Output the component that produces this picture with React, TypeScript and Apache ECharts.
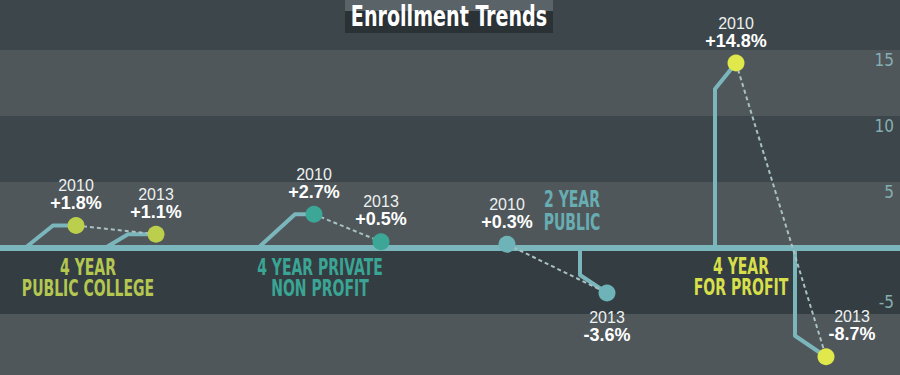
import React, { useEffect, useRef } from "react";
import * as echarts from "echarts";

// ---------- data ----------
const groups = ["4 YEAR\nPUBLIC COLLEGE", "4 YEAR PRIVATE\nNON PROFIT", "2 YEAR\nPUBLIC", "4 YEAR\nFOR PROFIT"];
const years = ["2010", "2013"];
const change2010 = [1.8, 2.7, 0.3, 14.8];
const change2013 = [1.1, 0.5, -3.6, -8.7];
const yTickLabels = [15, 10, 5, -5];
const chartTitle = "Enrollment Trends";

// ---------- layout / style ----------
const slotX = [
  [76, 156],
  [314, 381],
  [507, 607],
  [736, 826],
];
// connector shapes (pixel offsets from the point)
type Conn = { kind: "ramp" | "stem"; a: number; b: number } | null;
const connectors: Conn[] = [
  { kind: "ramp", a: 51, b: 23 },
  { kind: "ramp", a: 51, b: 28 },
  { kind: "ramp", a: 56, b: 19 },
  null,
  null,
  { kind: "stem", a: 27, b: 18 },
  { kind: "stem", a: 21, b: 26 },
  { kind: "stem", a: 31, b: 21 },
];
const labelLayout: any[][] = [
  [{ position: "top" }, { position: "top" }],
  [{ position: "top" }, { position: "top" }],
  [{ position: "top" }, { position: "bottom", distance: 7 }],
  [{ position: "top" }, { position: "top", offset: [26, 0] }],
];
const groupLabelLayout = [
  { x: 88, y: 278, lh: 21 },
  { x: 320, y: 278, lh: 21 },
  { x: 572, y: 211, lh: 23 },
  { x: 741, y: 277, lh: 21 },
];
const pointColors = ["#bccf4c", "#3ca697", "#6db3b7", "#e0e84b"];
const groupTextColors = ["#b3c751", "#3aa595", "#68adb2", "#d7df4a"];
const LINE_COLOR = "#7ab6bc";
const DASH_COLOR = "#a9c1c3";
const BAND_LIGHT = "#4f575b";
const BAND_DARK = "#3d474b";
const BAND_DARKEST = "#343d41";
const bandColor = (lo: number) => (lo === -5 ? BAND_DARKEST : (lo / 5) % 2 === 0 ? BAND_LIGHT : BAND_DARK);

const FONT_NARROW = "'Liberation Sans Narrow', 'DejaVu Sans Condensed', 'Roboto Condensed', 'Liberation Sans', sans-serif";
const FONT = "'Liberation Sans', Arial, sans-serif";

const fmt = (v: number) => (v > 0 ? `+${v.toFixed(1)}%` : `${v.toFixed(1)}%`);

function buildOption() {
  const bandStarts = [-10, -5, 0, 5, 10, 15];
  const pointData: number[][] = [];
  groups.forEach((_, g) => {
    pointData.push([slotX[g][0], change2010[g]]);
    pointData.push([slotX[g][1], change2013[g]]);
  });

  const groupSeries = groups.map((_, g) => {
    const vals = [change2010[g], change2013[g]];
    return {
      type: "line",
      xAxisIndex: 0,
      yAxisIndex: 0,
      z: 6,
      silent: true,
      symbol: "circle",
      symbolSize: 17,
      itemStyle: { color: pointColors[g] },
      lineStyle: { type: [4, 3], width: 2, color: DASH_COLOR },
      data: vals.map((v, i) => ({
        value: [slotX[g][i], v],
        label: {
          show: true,
          ...labelLayout[g][i],
          formatter: `{y|${years[i]}}\n{v|${fmt(v)}}`,
          rich: {
            y: { fontFamily: FONT, fontSize: 16, color: "#eef1f1", lineHeight: 17, align: "center" },
            v: { fontFamily: FONT, fontSize: 18, fontWeight: "bold", color: "#ffffff", lineHeight: 18, align: "center" },
          },
        },
      })),
    };
  });

  const graphics: any[] = [
    { type: "rect", shape: { x: 345, y: 0, width: 208, height: 11 }, style: { fill: "#5a6367" }, z: 10 },
    { type: "rect", shape: { x: 345, y: 11, width: 208, height: 22 }, style: { fill: "#2b3236" }, z: 10 },
    {
      type: "text",
      x: 449,
      y: 16,
      z: 11,
      scaleX: 0.85,
      scaleY: 1.1,
      style: {
        text: chartTitle,
        fill: "#ffffff",
        fontFamily: FONT_NARROW,
        fontWeight: "bold",
        fontSize: 25,
        align: "center",
        verticalAlign: "middle",
      },
    },
    ...groups.map((name, g) => ({
      type: "text",
      x: groupLabelLayout[g].x,
      y: groupLabelLayout[g].y,
      z: 11,
      scaleX: 0.82,
      scaleY: 1.2,
      style: {
        text: name,
        fill: groupTextColors[g],
        fontFamily: FONT_NARROW,
        fontWeight: "bold",
        fontSize: 19,
        lineHeight: groupLabelLayout[g].lh / 1.2,
        align: "center",
        verticalAlign: "middle",
      },
    })),
  ];

  return {
    animation: false,
    backgroundColor: BAND_DARK,
    grid: { left: 0, right: 0, top: 0, bottom: 0 },
    xAxis: [{ type: "value", min: 0, max: 900, show: false }],
    yAxis: [
      { type: "value", min: -10.16, max: 19.84, show: false },
      {
        type: "value",
        min: -9.62,
        max: 18.79,
        splitNumber: 6,
        position: "right",
        z: 10,
        axisLine: { show: false },
        axisTick: { show: false },
        splitLine: { show: false },
        axisLabel: {
          inside: true,
          margin: 6,
          showMinLabel: true,
          showMaxLabel: true,
          color: "#86aeb2",
          fontFamily: FONT_NARROW,
          fontSize: 17,
          formatter: (v: number) =>
            yTickLabels.includes(Number(v)) ? (Number(v) > 0 ? `{p|${v}}` : `{n|${v}}`) : "",
          rich: {
            p: { padding: [20, 0, 0, 0], fontFamily: FONT_NARROW, fontSize: 17, color: "#86aeb2" },
            n: { padding: [0, 0, 24, 0], fontFamily: FONT_NARROW, fontSize: 17, color: "#86aeb2" },
          },
        },
      },
    ],
    graphic: graphics,
    series: [
      {
        type: "custom",
        name: "bands",
        xAxisIndex: 0,
        yAxisIndex: 1,
        z: 1,
        silent: true,
        clip: false,
        encode: { x: 0, y: [1, 2] },
        data: bandStarts.map((lo) => [0, lo, lo + 5]),
        renderItem: (params: any, api: any) => {
          const top = api.coord([0, api.value(2)])[1];
          const bot = api.coord([0, api.value(1)])[1];
          return {
            type: "rect",
            shape: { x: params.coordSys.x, y: top, width: params.coordSys.width, height: bot - top },
            style: { fill: bandColor(api.value(1)) },
          };
        },
      },
      {
        type: "line",
        name: "zero",
        xAxisIndex: 0,
        yAxisIndex: 0,
        z: 3,
        silent: true,
        symbol: "none",
        lineStyle: { color: LINE_COLOR, width: 6 },
        data: [
          [0, 0],
          [900, 0],
        ],
      },
      {
        type: "custom",
        name: "connectors",
        xAxisIndex: 0,
        yAxisIndex: 0,
        z: 4,
        silent: true,
        data: pointData,
        renderItem: (params: any, api: any) => {
          const c = connectors[params.dataIndex];
          if (!c) return { type: "group", children: [] };
          const v = api.value(1);
          const p = api.coord([api.value(0), v]);
          const z = api.coord([api.value(0), 0]);
          let pts: number[][];
          if (c.kind === "ramp") {
            pts = [
              [p[0] - c.a, z[1]],
              [p[0] - c.b, p[1]],
              [p[0], p[1]],
            ];
          } else {
            const bendY = p[1] + (v > 0 ? c.b : -c.b);
            pts = [
              [p[0] - c.a, z[1]],
              [p[0] - c.a, bendY],
              [p[0], p[1]],
            ];
          }
          return {
            type: "polyline",
            shape: { points: pts },
            style: { stroke: LINE_COLOR, lineWidth: 4, fill: null, lineJoin: "round" },
          };
        },
      },
      ...groupSeries,
    ],
  };
}

export default function App() {
  const ref = useRef<HTMLDivElement>(null);
  useEffect(() => {
    const chart = echarts.init(ref.current!, null, { renderer: "svg", width: 900, height: 375 });
    chart.setOption(buildOption() as any);
    return () => chart.dispose();
  }, []);
  return (
    <div
      ref={ref}
      style={{ position: "fixed", left: 0, top: 0, width: 900, height: 375, background: BAND_DARK }}
    />
  );
}
